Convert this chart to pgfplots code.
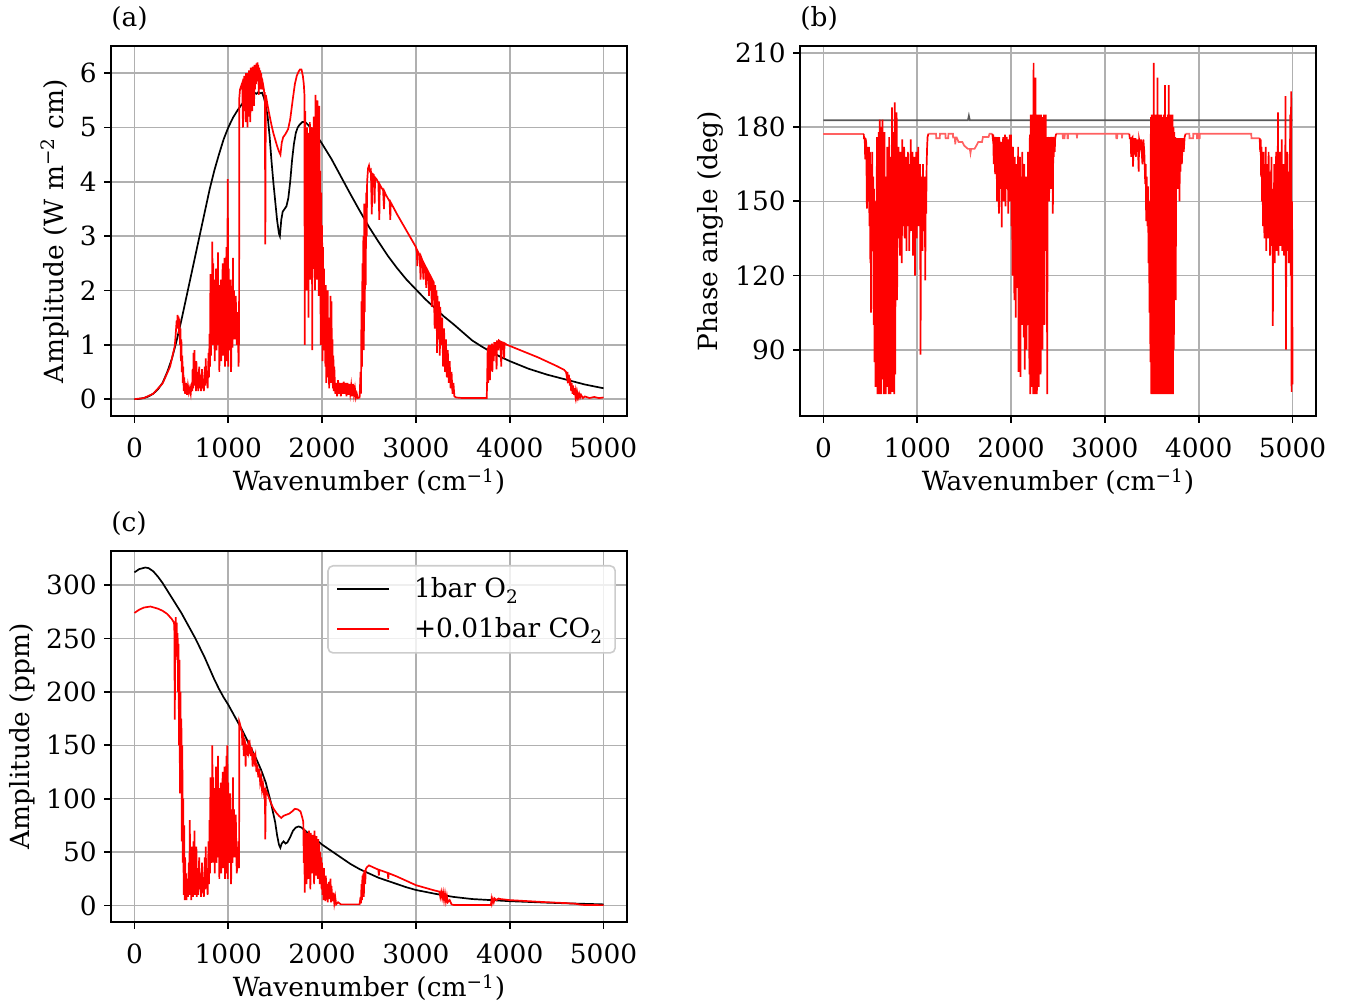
\documentclass[border=0pt]{standalone}
\usepackage{fontspec}
\setmainfont{DejaVu Serif}
\usepackage{pgfplots}
\pgfplotsset{compat=1.18}
\definecolor{gridgray}{HTML}{B0B0B0}
\colorlet{palered}{red!62!white}
\colorlet{legframe}{black!20}
\newcommand{\chartfont}{\fontsize{13.2}{15.5}\selectfont}

\pgfplotsset{
  myax/.style={
    scale only axis,
    width=258pt,
    xmin=-250, xmax=5250,
    xtick={0,1000,2000,3000,4000,5000},
    grid=major,
    major grid style={gridgray, line width=0.8pt},
    axis line style={line width=1.25pt},
    tick align=outside,
    tick pos=left,
    major tick length=3.5pt,
    every tick/.style={black, line width=0.9pt},
    /pgf/number format/assume math mode=true,
    /pgf/number format/1000 sep={},
    tick label style={font=\chartfont},
    xticklabel style={anchor=base, inner sep=0pt, yshift=-17.5pt},
    yticklabel style={anchor=east, inner sep=0pt, xshift=-3.5pt},
    label style={font=\chartfont},
    xlabel={Wavenumber (cm\textsuperscript{−1})},
    xlabel style={at={(rel axis cs:0.5,0)}, anchor=base, inner sep=0pt, yshift=-37.5pt},
    title style={at={(rel axis cs:0,1)}, anchor=base west, inner sep=0pt, yshift=3.5pt, font=\chartfont},
  }
}

\begin{document}
\begin{tikzpicture}
\path[use as bounding box] (0pt,0pt) rectangle (673pt,-502pt);

%% ---------------- (a) ----------------
\begin{axis}[myax,
  at={(55.5pt,-23pt)}, anchor=north west,
  height=185pt,
  ymin=-0.31, ymax=6.5,
  ytick={0,1,2,3,4,5,6},
  title={(a)},
  ylabel={Amplitude (W m\textsuperscript{−2} cm)},
  ylabel style={at={(rel axis cs:0,0.5)}, anchor=center, xshift=0pt, yshift=28pt},
]
\addplot[black, line width=0.85pt] table[row sep=\\] {
x y\\
0 0\\50 0.005\\100 0.02\\150 0.05\\200 0.1\\250 0.18\\300 0.3\\350 0.5\\400 0.75\\450 1.08\\
500 1.45\\550 1.85\\600 2.25\\650 2.65\\700 3.05\\750 3.45\\800 3.85\\850 4.2\\900 4.5\\950 4.78\\
1000 5.0\\1050 5.18\\1100 5.32\\1150 5.44\\1200 5.53\\1250 5.6\\1280 5.64\\1300 5.62\\1320 5.65\\1340 5.63\\
1360 5.64\\1380 5.55\\1400 5.4\\1420 5.2\\1440 4.85\\1460 4.4\\1480 4.0\\1500 3.65\\1520 3.3\\1540 3.05\\
1550 3.0\\1565 3.3\\1580 3.45\\1600 3.5\\1620 3.55\\1640 3.7\\1660 4.0\\1680 4.4\\1700 4.7\\1720 4.9\\
1740 5.0\\1760 5.05\\1790 5.1\\1820 5.1\\1850 5.05\\1900 4.95\\1950 4.83\\2000 4.7\\2100 4.42\\2200 4.1\\
2300 3.78\\2400 3.47\\2500 3.17\\2600 2.9\\2700 2.64\\2800 2.41\\2900 2.2\\3000 2.02\\3100 1.84\\3200 1.68\\
3300 1.52\\3400 1.38\\3500 1.23\\3600 1.08\\3700 0.97\\3800 0.87\\3900 0.78\\4000 0.7\\4200 0.56\\4400 0.45\\
4600 0.36\\4800 0.27\\5000 0.2\\
};
\addplot[red, line width=0.85pt] table[row sep=\\] {
x y\\
0 0\\100 0.02\\200 0.1\\300 0.29\\380 0.6\\430 0.98\\440 1.2\\450 1.45\\455 1.3\\460 1.55\\
465 1.35\\470 1.52\\475 1.2\\480 1.48\\485 1.0\\490 1.3\\495 0.7\\500 1.1\\505 0.5\\510 0.8\\
515 0.3\\520 0.6\\525 0.15\\530 0.4\\540 0.1\\550 0.3\\560 0.08\\570 0.25\\580 0.12\\590 0.2\\
600 0.1\\610 0.3\\615 0.15\\620 0.55\\625 0.2\\630 0.85\\635 0.3\\640 0.9\\645 0.25\\650 0.6\\
655 0.15\\660 0.7\\665 0.2\\670 0.5\\680 0.15\\690 0.6\\695 0.2\\700 0.45\\710 0.15\\720 0.55\\
725 0.2\\730 0.35\\740 0.15\\750 0.6\\755 0.25\\760 0.75\\765 0.3\\770 0.5\\780 0.2\\790 0.85\\
795 0.4\\800 1.2\\805 0.6\\810 2.3\\815 0.8\\820 2.0\\825 1.1\\830 2.9\\835 1.0\\840 2.5\\
845 1.3\\850 2.2\\855 0.7\\860 1.9\\865 1.1\\870 2.4\\875 0.9\\880 2.0\\885 1.4\\890 2.7\\
895 1.0\\900 2.1\\905 0.5\\910 1.8\\915 1.2\\920 2.2\\925 0.7\\930 1.9\\935 1.3\\940 2.5\\
945 0.8\\950 2.0\\955 1.2\\960 2.6\\965 0.6\\970 2.2\\975 1.0\\980 2.8\\985 0.7\\995 4.05\\
1000 0.6\\1005 2.4\\1010 1.2\\1015 2.0\\1020 0.9\\1025 2.2\\1030 0.5\\1040 1.9\\1045 0.95\\1050 2.6\\
1055 1.1\\1060 2.0\\1065 1.5\\1070 1.1\\1080 1.9\\1090 1.0\\1100 1.6\\1110 0.6\\1115 1.2\\1118 5.55\\
1125 5.7\\1135 5.75\\1145 5.8\\1150 5.7\\1157 5.0\\1160 5.9\\1165 5.3\\1170 5.95\\1175 5.5\\1180 5.9\\
1185 5.1\\1190 6.0\\1195 5.4\\1200 6.0\\1205 5.0\\1210 5.9\\1215 5.2\\1220 6.05\\1225 5.6\\1230 6.0\\
1235 5.1\\1240 6.1\\1245 5.5\\1250 6.1\\1255 5.3\\1260 6.12\\1265 5.6\\1270 6.1\\1275 5.4\\1280 6.15\\
1285 5.7\\1290 6.15\\1295 5.8\\1300 6.18\\1305 5.9\\1312 6.2\\1315 5.85\\1320 6.15\\1325 5.6\\1330 6.1\\
1335 5.9\\1340 6.05\\1345 5.7\\1350 6.0\\1355 5.8\\1360 5.9\\1365 5.7\\1370 5.8\\1380 5.7\\1385 5.6\\
1390 5.65\\1395 2.85\\1400 5.6\\1420 5.4\\1440 5.22\\1460 5.05\\1480 4.9\\1500 4.78\\1520 4.66\\1540 4.56\\
1556 4.5\\1570 4.72\\1585 4.82\\1610 4.88\\1638 4.97\\1660 5.15\\1690 5.55\\1710 5.8\\1730 5.95\\1750 6.03\\
1765 6.07\\1780 6.07\\1795 5.95\\1805 5.8\\1812 5.6\\1815 1.0\\1820 5.3\\1825 2.5\\1830 4.8\\1835 2.0\\
1840 5.0\\1845 2.8\\1850 4.5\\1855 1.5\\1860 4.9\\1865 2.6\\1870 5.1\\1875 2.2\\1880 4.7\\1885 3.0\\
1890 5.0\\1895 0.9\\1900 4.8\\1905 2.4\\1910 5.2\\1915 2.7\\1920 4.6\\1925 2.0\\1930 5.6\\1935 3.0\\
1940 5.0\\1945 2.2\\1950 5.5\\1955 2.6\\1960 4.8\\1965 1.9\\1970 5.4\\1975 2.8\\1980 4.2\\1985 1.0\\
1990 3.8\\1995 1.8\\2000 3.2\\2005 0.7\\2010 2.8\\2015 1.2\\2020 2.4\\2025 0.9\\2030 1.8\\2035 0.6\\
2040 2.1\\2045 0.3\\2050 1.7\\2055 0.9\\2060 2.0\\2065 0.4\\2070 1.5\\2075 0.2\\2080 1.2\\2085 0.5\\
2090 1.9\\2095 0.3\\2100 1.8\\2105 0.5\\2110 1.1\\2115 0.2\\2120 0.8\\2125 0.15\\2130 0.6\\2140 0.1\\
2150 0.3\\2160 0.05\\2170 0.35\\2180 0.1\\2190 0.3\\2200 0.05\\2210 0.3\\2220 0.1\\2230 0.32\\2240 0.1\\
2250 0.3\\2260 0.05\\2270 0.3\\2280 0.08\\2290 0.28\\2300 0.1\\2310 0.25\\2320 0.05\\2330 0.28\\2340 0.08\\
2350 0.2\\2360 0.03\\2370 0.1\\2380 0.02\\2400 0.03\\2410 0.5\\2415 0.1\\2420 1.8\\2425 0.6\\2430 2.5\\
2435 1.0\\2440 3.0\\2445 0.9\\2450 3.6\\2455 1.6\\2460 3.2\\2465 2.1\\2470 3.8\\2475 3.0\\2480 4.0\\
2490 4.25\\2500 4.3\\2510 4.2\\2520 4.22\\2530 3.4\\2535 4.15\\2550 4.13\\2560 3.6\\2565 4.08\\2580 4.05\\
2600 3.98\\2610 3.3\\2615 3.95\\2630 3.9\\2650 3.85\\2660 3.5\\2665 3.82\\2680 3.76\\2700 3.7\\2720 3.64\\
2727 3.3\\2732 3.62\\2760 3.53\\2800 3.4\\2850 3.25\\2900 3.1\\2950 2.95\\3000 2.8\\3010 2.7\\3015 2.45\\
3020 2.72\\3040 2.65\\3050 2.2\\3055 2.62\\3070 2.55\\3080 2.2\\3085 2.5\\3100 2.45\\3110 2.05\\3115 2.4\\
3130 2.35\\3140 1.9\\3145 2.3\\3160 2.25\\3170 1.7\\3175 2.2\\3190 2.15\\3200 1.3\\3205 2.1\\3215 1.5\\
3220 2.0\\3225 0.85\\3230 1.9\\3240 1.1\\3245 1.8\\3255 0.8\\3260 1.7\\3270 1.0\\3280 1.5\\3290 0.6\\
3300 1.3\\3310 0.5\\3320 1.1\\3330 0.4\\3340 0.9\\3350 0.3\\3360 0.7\\3370 0.2\\3380 0.5\\3390 0.1\\
3400 0.3\\3410 0.05\\3430 0.03\\3500 0.02\\3600 0.02\\3700 0.02\\3755 0.02\\3760 0.4\\3765 0.95\\3770 0.3\\
3775 1.0\\3780 0.5\\3785 0.9\\3790 0.35\\3795 1.0\\3800 0.6\\3810 1.02\\3815 0.5\\3820 1.0\\3830 0.7\\
3835 1.05\\3845 0.8\\3850 1.05\\3860 0.55\\3865 1.08\\3880 0.9\\3885 1.08\\3900 1.06\\3910 0.6\\3915 1.05\\
3930 1.04\\3940 0.75\\3945 1.03\\3970 1.0\\4000 0.98\\4100 0.91\\4200 0.84\\4300 0.77\\4400 0.69\\4500 0.61\\
4580 0.54\\4600 0.5\\4610 0.4\\4615 0.5\\4625 0.3\\4630 0.45\\4640 0.25\\4645 0.38\\4655 0.15\\4660 0.3\\
4670 0.1\\4675 0.25\\4685 0.08\\4690 0.2\\4700 0.06\\4705 0.15\\4715 0.04\\4720 0.12\\4730 0.03\\4740 0.1\\
4750 0.03\\4760 0.08\\4780 0.02\\4800 0.05\\4850 0.02\\4900 0.04\\4950 0.02\\5000 0.03\\
};
\end{axis}

%% ---------------- (b) ----------------
\begin{axis}[myax,
  at={(400pt,-23pt)}, anchor=north west,
  height=185pt,
  ymin=63.2, ymax=212.8,
  ytick={90,120,150,180,210},
  title={(b)},
  ylabel={Phase angle (deg)},
  ylabel style={at={(rel axis cs:0,0.5)}, anchor=center, xshift=0pt, yshift=45pt},
]
\addplot[black!65, line width=0.85pt] table[row sep=\\] {
x y\\
0 182.8\\1540 182.8\\1550 184.6\\1560 182.8\\5000 182.8\\
};
% flat parts
\addplot[palered, line width=0.85pt] table[row sep=\\] {
x y\\
0 177.3\\430 177.3\\
};
\addplot[palered, line width=0.85pt] table[row sep=\\] {
x y\\
1118 177.3\\1200 177.3\\1202 175.5\\1240 175.5\\1242 177.3\\1300 177.3\\1302 175.5\\1330 175.5\\1332 177.3\\1380 177.3\\
1382 175.8\\1400 175.8\\1405 173\\1410 175.8\\1420 175.8\\1440 174\\1480 174\\1500 172.5\\1540 171.2\\1560 171.2\\
1567 169.5\\1574 171.2\\1610 171.2\\1630 172.5\\1650 174\\1690 174\\1700 176\\1760 176\\1770 177.3\\1800 177.3\\
};
\addplot[palered, line width=0.85pt] table[row sep=\\] {
x y\\
2480 177.3\\2550 177.3\\2552 175.5\\2570 175.5\\2572 177.3\\2600 177.3\\2602 175.5\\2606 175.5\\2608 177.3\\2700 177.3\\
2702 175.5\\2706 177.3\\3120 177.3\\3122 175.5\\3130 175.5\\3132 177.3\\3180 177.3\\3182 175.5\\3186 177.3\\3260 177.3\\
};
\addplot[palered, line width=0.85pt] table[row sep=\\] {
x y\\
3860 177.3\\3900 177.3\\3902 175.5\\3940 175.5\\3942 177.3\\3980 177.3\\3982 175.5\\3990 175.5\\3992 177.3\\4000 177.3\\
4002 175.5\\4010 175.5\\4012 177.3\\4560 177.3\\4562 175.5\\4640 175.5\\4650 175.5\\
};
% noisy parts
\addplot[red, line width=0.85pt] table[row sep=\\] {
x y\\
430 177.3\\432 175.5\\440 175.5\\445 167\\448 175.5\\455 174\\460 160\\463 147\\467 172\\470 165\\
475 168\\480 150\\485 172\\490 140\\495 170\\500 125\\505 165\\507 105\\510 160\\515 140\\
520 170\\525 130\\530 160\\535 100\\540 155\\545 85\\550 150\\555 75\\560 140\\565 110\\
570 176\\575 72\\580 160\\585 80\\590 178\\595 72\\600 183\\605 90\\610 165\\615 72\\
620 180\\625 78\\630 183\\635 95\\640 170\\645 72\\650 178\\655 110\\660 160\\665 72\\
670 150\\675 85\\680 172\\685 75\\690 165\\695 72\\700 176\\705 100\\710 150\\715 72\\
720 168\\725 85\\730 188\\735 73\\740 160\\745 90\\750 178\\755 72\\760 190\\765 80\\
770 155\\775 125\\780 186\\785 110\\790 165\\795 135\\800 172\\805 140\\810 150\\815 128\\
820 170\\825 145\\830 160\\835 125\\840 175\\845 140\\850 165\\855 150\\860 172\\865 135\\
870 158\\875 145\\880 168\\885 130\\890 160\\895 148\\900 170\\905 140\\910 155\\915 130\\
920 165\\925 150\\930 175\\935 138\\940 162\\945 145\\950 170\\955 128\\960 160\\965 142\\
970 168\\975 120\\980 158\\985 145\\990 170\\995 135\\1000 160\\1005 148\\1010 172\\1015 140\\
1020 155\\1025 150\\1030 165\\1035 88\\1040 160\\1045 140\\1050 158\\1055 130\\1060 165\\1065 145\\
1070 150\\1075 138\\1080 160\\1085 118\\1090 155\\1095 145\\1100 165\\1105 172\\1110 176\\1118 177.3\\
};
\addplot[red, line width=0.85pt] table[row sep=\\] {
x y\\
1800 177.3\\1805 175.5\\1810 177\\1815 165\\1820 176\\1825 170\\1830 161\\1835 176\\1840 168\\1845 175\\
1850 150\\1855 176\\1860 160\\1865 172\\1870 145\\1875 176\\1880 155\\1885 170\\1890 165\\1895 174\\
1900 139.5\\1905 172\\1910 158\\1915 176\\1920 150\\1925 170\\1930 160\\1935 177\\1940 148\\1945 168\\
1950 165\\1955 176\\1960 155\\1965 170\\1970 145\\1975 175\\1980 160\\1985 177\\1990 150\\1995 170\\
2000 177\\2005 140\\2010 165\\2015 120\\2020 172\\2025 135\\2030 160\\2035 110\\2040 168\\2045 140\\
2050 103\\2055 165\\2060 130\\2065 160\\2070 115\\2075 172\\2080 81\\2085 150\\2090 125\\2095 168\\
2100 79\\2105 140\\2110 160\\2115 100\\2120 170\\2125 125\\2130 150\\2135 95\\2140 165\\2145 82\\
2150 140\\2155 110\\2160 160\\2165 90\\2170 150\\2175 120\\2180 170\\2185 100\\2190 160\\2195 80\\
2200 177\\2205 72\\2210 185\\2215 75\\2220 183\\2225 90\\2230 185\\2235 72\\2240 206\\2245 73\\
2250 185\\2255 72\\2260 200\\2265 85\\2270 184\\2275 72\\2280 185\\2285 95\\2290 183\\2295 75\\
2300 185\\2305 100\\2310 183\\2315 80\\2320 185\\2325 110\\2330 184\\2335 90\\2340 183\\2345 120\\
2350 185\\2355 100\\2360 183\\2365 140\\2370 185\\2375 130\\2380 176\\2385 72\\2390 176\\2395 165\\
2400 175\\2405 150\\2410 176\\2415 160\\2420 172\\2425 155\\2430 176\\2435 165\\2440 175.5\\2445 145\\
2450 176\\2455 168\\2460 175.5\\2465 170\\2470 175.5\\2480 177.3\\
};
\addplot[red, line width=0.85pt] table[row sep=\\] {
x y\\
3260 177.3\\3265 175.5\\3275 175.5\\3280 168\\3285 175.5\\3295 176\\3300 164\\3305 175.5\\3315 172\\3325 175.5\\
3330 168\\3340 175\\3345 170\\3350 175\\3360 162\\3365 175\\3380 172\\3385 175\\3400 165\\3410 175\\
3420 170\\3430 157\\3435 165\\3440 142\\3445 160\\3450 150\\3455 140\\3460 156\\3465 125\\3470 150\\
3475 105\\3480 140\\3485 85\\3490 184\\3495 72\\3500 185\\3505 78\\3510 183\\3515 72\\3520 206\\
3525 72\\3530 185\\3535 80\\3540 184\\3545 72\\3550 185\\3555 75\\3560 200\\3565 72\\3570 184\\
3575 90\\3580 185\\3585 72\\3590 183\\3595 80\\3600 185\\3605 72\\3610 184\\3615 95\\3620 183\\
3625 72\\3630 185\\3635 85\\3640 197\\3645 72\\3650 184\\3655 78\\3660 183\\3665 72\\3670 185\\
3675 100\\3680 197\\3685 72\\3690 184\\3695 88\\3700 185\\3705 72\\3710 183\\3715 100\\3720 185\\
3725 72\\3730 180\\3735 90\\3740 178\\3745 120\\3750 176\\3755 110\\3760 175.5\\3765 165\\3770 175.5\\
3775 155\\3780 170\\3785 160\\3790 175.5\\3795 150\\3800 172\\3805 162\\3810 175.5\\3820 165\\3830 175.5\\
3840 170\\3850 176\\3860 177.3\\
};
\addplot[red, line width=0.85pt] table[row sep=\\] {
x y\\
4650 175.5\\4655 170\\4660 175\\4665 160\\4670 172\\4675 150\\4680 168\\4685 140\\4690 170\\4695 155\\
4700 135\\4705 165\\4710 145\\4715 172\\4720 130\\4725 160\\4730 150\\4735 165\\4740 135\\4745 170\\
4750 145\\4755 162\\4760 128\\4765 158\\4770 140\\4775 168\\4780 132\\4785 155\\4790 99.6\\4795 150\\
4800 142\\4805 165\\4810 125\\4815 160\\4820 140\\4825 170\\4830 130\\4835 155\\4840 145\\4845 186\\
4850 128\\4855 160\\4860 138\\4865 170\\4870 132\\4875 158\\4880 145\\4885 175\\4890 130\\4895 160\\
4900 140\\4905 165\\4910 128\\4915 150\\4920 135\\4925 192.5\\4930 90\\4935 160\\4940 130\\4945 170\\
4950 138\\4955 155\\4960 125\\4965 162\\4970 140\\4975 185\\4980 120\\4985 194.5\\4990 73\\4995 150\\
5000 76\\
};
\end{axis}

%% ---------------- (c) ----------------
\begin{axis}[myax,
  at={(55.5pt,-275.5pt)}, anchor=north west,
  height=185.5pt,
  ymin=-15.5, ymax=332,
  ytick={0,50,100,150,200,250,300},
  title={(c)},
  ylabel={Amplitude (ppm)},
  ylabel style={at={(rel axis cs:0,0.5)}, anchor=center, xshift=0pt, yshift=44.5pt},
  legend style={at={(rel axis cs:1,1)}, anchor=north east, xshift=-5.5pt, yshift=-7pt,
    draw=legframe, line width=0.8pt, rounded corners=2.5pt, fill=white, fill opacity=0.8, text opacity=1,
    font=\chartfont, inner xsep=4pt, inner ysep=4pt, row sep=4.5pt, column sep=10pt},
  legend cell align=left,
  legend image code/.code={\draw[#1, line width=1pt] (0pt,0pt) -- (26pt,0pt);},
]
\addplot[black, line width=0.85pt] table[row sep=\\] {
x y\\
0 312\\50 315\\114 316.5\\150 316\\200 313\\250 308\\300 302\\350 295\\400 288\\450 281\\
500 274\\550 266\\600 258\\650 250\\700 241\\750 232\\800 222\\850 212\\900 203\\950 195\\
1000 188\\1050 180\\1100 172\\1150 164\\1200 155\\1250 146\\1300 137\\1350 127\\1400 115\\1450 98\\
1480 86\\1500 78\\1520 66\\1540 57\\1555 54\\1570 58\\1590 60\\1610 58\\1630 59\\1660 64\\
1690 70\\1720 73\\1750 74\\1780 73\\1820 70\\1900 64\\2000 57\\2100 51\\2200 45\\2300 39\\
2400 34\\2500 30\\2600 26\\2700 23\\2800 20\\2900 17\\3000 14.5\\3200 11\\3400 8\\3600 6\\
3800 5\\4000 4\\4200 3.3\\4400 2.6\\4600 2\\4800 1.5\\5000 1\\
};
\addlegendentry{1bar O\textsubscript{2}}
\addplot[red, line width=0.85pt] table[row sep=\\] {
x y\\
0 274\\50 277\\100 279\\170 280\\250 278\\300 276\\350 273\\400 268\\420 265\\425 262\\
430 174\\435 258\\440 270\\445 240\\450 265\\455 230\\460 255\\465 200\\470 245\\475 150\\
480 230\\485 105\\490 200\\495 130\\500 175\\505 60\\510 150\\515 40\\520 100\\525 10\\
530 75\\535 5\\540 45\\545 15\\550 30\\555 5\\560 25\\570 8\\580 40\\585 10\\
590 80\\595 15\\600 45\\605 5\\610 55\\615 12\\620 35\\625 8\\630 60\\635 15\\
640 70\\645 10\\650 40\\655 20\\660 55\\665 8\\670 35\\680 10\\690 45\\695 15\\
700 30\\710 8\\720 40\\725 12\\730 20\\740 8\\750 45\\755 15\\760 55\\765 20\\
770 30\\780 10\\790 60\\795 20\\800 80\\805 30\\810 120\\815 40\\820 100\\825 50\\
830 150\\835 40\\840 120\\845 60\\850 110\\855 30\\860 100\\865 55\\870 130\\875 40\\
880 95\\885 65\\890 140\\895 45\\900 110\\905 25\\910 90\\915 55\\920 115\\925 30\\
930 95\\935 60\\940 125\\945 35\\950 100\\955 55\\960 130\\965 25\\970 105\\975 45\\
980 140\\985 30\\990 150\\995 25\\1000 115\\1005 55\\1010 95\\1015 40\\1020 105\\1030 20\\
1040 90\\1045 40\\1050 120\\1055 45\\1060 90\\1065 65\\1070 45\\1080 85\\1090 30\\1100 40\\
1110 60\\1115 35\\1118 172\\1125 170\\1135 166\\1145 163\\1150 150\\1155 162\\1160 158\\1165 140\\
1170 157\\1180 152\\1185 130\\1190 150\\1200 148\\1210 140\\1215 155\\1220 145\\1230 150\\1240 140\\
1250 148\\1260 130\\1270 143\\1280 135\\1290 140\\1300 125\\1310 132\\1320 120\\1330 128\\1340 115\\
1350 120\\1360 108\\1370 114\\1380 105\\1390 110\\1395 62\\1400 108\\1420 104\\1450 97\\1480 91\\
1510 87\\1540 84\\1565 82\\1590 84\\1620 85\\1650 86\\1680 88\\1710 90.5\\1740 90\\1770 88\\
1790 82\\1800 78\\1805 40\\1810 72\\1815 12\\1820 70\\1825 35\\1830 66\\1835 20\\1840 68\\
1845 40\\1850 62\\1855 25\\1860 70\\1865 45\\1870 65\\1875 15\\1880 68\\1885 35\\1890 60\\
1895 30\\1900 66\\1905 42\\1910 62\\1915 20\\1920 70\\1925 38\\1930 60\\1935 28\\1940 65\\
1945 45\\1950 55\\1955 25\\1960 62\\1965 35\\1970 58\\1975 20\\1980 50\\1985 30\\1990 45\\
1995 15\\2000 40\\2005 10\\2010 30\\2015 5\\2020 35\\2025 12\\2030 25\\2035 4\\2040 28\\
2045 8\\2050 20\\2060 3\\2070 22\\2075 6\\2080 15\\2090 25\\2095 3\\2100 18\\2110 4\\
2120 12\\2130 2\\2140 8\\2150 1\\2170 3\\2200 1\\2300 1\\2400 1\\2410 8\\2415 2\\
2420 20\\2425 5\\2430 28\\2435 10\\2440 30\\2445 8\\2450 33\\2460 20\\2465 34\\2480 36\\
2500 37.5\\2550 35.5\\2600 33.5\\2605 28\\2610 33.3\\2700 30.5\\2705 25\\2710 30.2\\2800 27\\2900 23\\
3000 19\\3100 16.5\\3200 14\\3250 13\\3260 8\\3270 12.5\\3280 7\\3290 12\\3300 5\\3310 11\\
3320 4\\3330 9\\3340 3\\3360 5\\3380 1\\3400 0.5\\3800 0.5\\3805 5\\3810 2\\3820 6\\
3830 3\\3840 6.5\\3860 5\\3880 6.5\\3900 6\\4000 5\\4200 4\\4400 3\\4600 2.2\\4700 1.6\\
4750 0.8\\4800 0.4\\5000 0.3\\
};
\addlegendentry{+0.01bar CO\textsubscript{2}}
\end{axis}
\end{tikzpicture}
\end{document}
